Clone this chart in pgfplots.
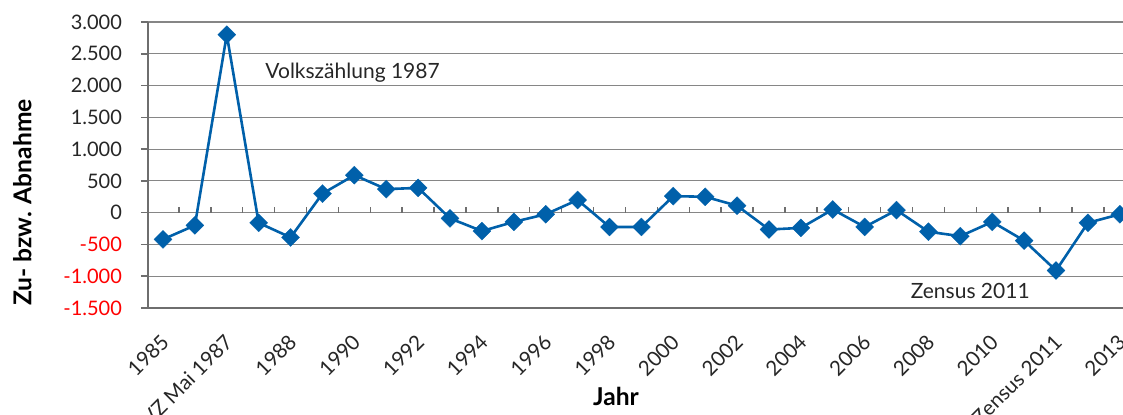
\documentclass[border=0pt]{standalone}
\usepackage{pgfplots}
\pgfplotsset{compat=1.18}
\usepackage{fontspec}
\setmainfont{Lato}
\definecolor{lineblue}{RGB}{0,96,170}
\definecolor{gridgray}{RGB}{134,134,134}
\definecolor{axgray}{RGB}{110,110,110}
\pgfplotstableread{
x y
0 -420
1 -200
2 2800
3 -160
4 -390
5 300
6 590
7 370
8 390
9 -90
10 -290
11 -145
12 -25
13 200
14 -225
15 -225
16 260
17 250
18 110
19 -265
20 -240
21 50
22 -225
23 40
24 -300
25 -370
26 -145
27 -440
28 -910
29 -160
30 -25
}\datatable
\begin{document}
\begin{tikzpicture}
\path[use as bounding box, clip] (-74pt,-53.5pt) rectangle (487.5pt,154pt);
\begin{axis}[
 name=ax, at={(0,0)}, anchor=south west,
 scale only axis, width=487.5pt, height=143pt,
 xmin=-0.47, xmax=30.1, ymin=-1500, ymax=3000,
 clip=true, clip marker paths=true,
 axis x line*=bottom, axis y line*=left,
 x axis line style={draw=axgray, line width=1pt, -},
 y axis line style={draw=axgray, line width=1pt, -},
 ymajorgrids, grid style={gridgray, line width=0.6pt},
 ytick={-1500,-1000,...,3000},
 yticklabels={{\color{red}-1.500},{\color{red}-1.000},{\color{red}-500},0,500,1.000,1.500,2.000,2.500,3.000},
 yticklabel style={font=\fontsize{10}{12}\selectfont, text=black!85, xshift=-6pt},
 ytick style={draw=axgray, line width=0.8pt},
 tick align=outside, major tick length=3.5pt,
 xtick={0,2,...,30},
 xticklabels={1985,VZ Mai 1987,1988,1990,1992,1994,1996,1998,2000,2002,2004,2006,2008,2010,Zensus 2011,2013},
 xtick style={draw=none},
 xticklabel style={rotate=45, anchor=east, font=\fontsize{10.3}{12}\selectfont, text=black!85, yshift=-9pt, xshift=-4pt},
 xlabel={Jahr}, ylabel={Zu- bzw. Abnahme},
 xlabel style={at={(axis description cs:0.48,-0.308)}, anchor=center, font=\bfseries\fontsize{12.3}{14}\selectfont},
 ylabel style={at={(axis description cs:-0.129,0.369)}, anchor=center, font=\bfseries\fontsize{12.3}{14}\selectfont},
]
\pgfplotsinvokeforeach{0.5,1.5,...,29.5}{\draw[axgray, line width=0.7pt] (axis cs:#1,0) -- (axis cs:#1,95);}
\addplot[color=lineblue, line width=1.3pt, mark=square*, mark size=3.2pt, mark options={rotate=45, fill=lineblue, draw=lineblue, line width=0.1pt}] table[x=x,y=y] {\datatable};
\node[anchor=base west, inner sep=0pt, font=\fontsize{10.5}{12}\selectfont, text=black!85] at (axis cs:3.2,2115) {Volkszählung 1987};
\node[anchor=base, inner sep=0pt, font=\fontsize{10.5}{12}\selectfont, text=black!85] at (axis cs:25.31,-1355) {Zensus 2011};
\end{axis}
\end{tikzpicture}
\end{document}
